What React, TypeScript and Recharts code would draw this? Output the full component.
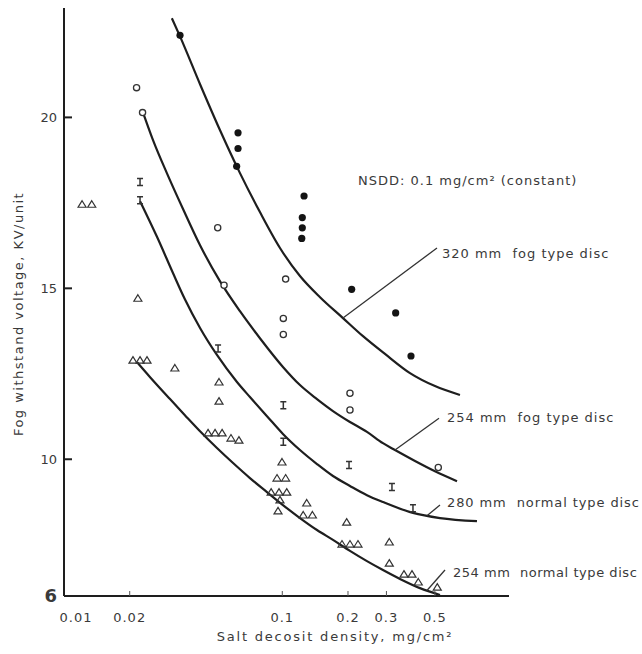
import React from 'react';
import { ComposedChart, XAxis, YAxis, Line, Scatter, ReferenceLine, ReferenceDot } from 'recharts';

const X_TICKS = [0.01, 0.02, 0.1, 0.2, 0.3, 0.5];
const X_TICK_LABELS = ['0.01', '0.02', '0.1', '0.2', '0.3', '0.5'];
const Y_TICKS = [6, 10, 15, 20];

// 320 mm fog type disc (filled circles)
const FOG320_POINTS: [number, number][] = [
  [0.034, 22.4], [0.0627, 19.55], [0.0627, 19.09], [0.0618, 18.57], [0.1258, 17.7],
  [0.1235, 17.07], [0.1235, 16.77], [0.1228, 16.46], [0.2079, 14.97], [0.3307, 14.28], [0.3887, 13.02],
];
const FOG320_CURVE: [number, number][] = [
  [0.0312, 22.9], [0.034, 22.37], [0.042, 20.97], [0.0518, 19.63], [0.064, 18.37], [0.079, 17.23],
  [0.0976, 16.18], [0.1205, 15.36], [0.1489, 14.74], [0.1897, 14.13], [0.2343, 13.6], [0.2954, 13.08],
  [0.3846, 12.52], [0.5006, 12.14], [0.6516, 11.88],
];

// 254 mm fog type disc (open circles)
const FOG254_POINTS: [number, number][] = [
  [0.0215, 20.87], [0.0229, 20.14], [0.0506, 16.77], [0.0541, 15.09], [0.1036, 15.27],
  [0.1011, 14.12], [0.1011, 13.65], [0.2042, 11.93], [0.2042, 11.44], [0.5184, 9.76],
];
const FOG254_CURVE: [number, number][] = [
  [0.023, 20.15], [0.0256, 19.33], [0.0296, 18.37], [0.0351, 17.32], [0.042, 16.26], [0.0518, 15.21],
  [0.064, 14.33], [0.079, 13.54], [0.1007, 12.7], [0.1205, 12.17], [0.1442, 11.76], [0.1707, 11.41],
  [0.2042, 11.09], [0.2443, 10.8], [0.2892, 10.47], [0.3283, 10.27], [0.4055, 9.95], [0.5006, 9.65],
  [0.6316, 9.36],
];

// 280 mm normal type disc (I markers)
const NORM280_POINTS: [number, number][] = [
  [0.0223, 18.11], [0.0223, 17.58], [0.0508, 13.24], [0.1011, 11.58], [0.1011, 10.51],
  [0.2022, 9.83], [0.318, 9.19], [0.3969, 8.57],
];
const NORM280_CURVE: [number, number][] = [
  [0.0223, 17.55], [0.0267, 16.5], [0.0316, 15.44], [0.0358, 14.68], [0.042, 13.84], [0.0502, 13.05],
  [0.062, 12.26], [0.0711, 11.82], [0.0851, 11.26], [0.1007, 10.74], [0.1205, 10.27], [0.1442, 9.86],
  [0.1707, 9.51], [0.2042, 9.22], [0.2443, 8.95], [0.2892, 8.75], [0.3969, 8.43], [0.5278, 8.28],
  [0.7797, 8.19],
];

// 254 mm normal type disc (triangles)
const NORM254_POINTS: [number, number][] = [
  [0.0121, 17.46], [0.0134, 17.46], [0.0218, 14.71], [0.0207, 12.9], [0.0223, 12.9], [0.024, 12.9],
  [0.0322, 12.67], [0.0513, 12.26], [0.0513, 11.7], [0.0457, 10.77], [0.0492, 10.77], [0.053, 10.77],
  [0.0582, 10.62], [0.0633, 10.56], [0.0997, 9.92], [0.0946, 9.45], [0.1036, 9.45], [0.0889, 9.04],
  [0.0966, 9.04], [0.1048, 9.04], [0.0976, 8.81], [0.0956, 8.49], [0.1294, 8.72], [0.1247, 8.37],
  [0.1374, 8.37], [0.1972, 8.16], [0.1877, 7.52], [0.2042, 7.52], [0.2222, 7.52], [0.3092, 7.58],
  [0.3092, 6.96], [0.361, 6.64], [0.3928, 6.64], [0.4198, 6.41], [0.5129, 6.26],
];
const NORM254_CURVE: [number, number][] = [
  [0.0216, 12.84], [0.0248, 12.4], [0.0306, 11.76], [0.0358, 11.29], [0.042, 10.82], [0.0502, 10.33],
  [0.0595, 9.89], [0.0711, 9.45], [0.0851, 9.04], [0.1007, 8.66], [0.1205, 8.28], [0.1442, 7.93],
  [0.1707, 7.64], [0.2042, 7.32], [0.2443, 7.02], [0.2892, 6.76], [0.3461, 6.5], [0.4274, 6.23],
  [0.5278, 6.03],
];

// annotations: [x, y] anchors in data units
const NOTE_TEXTS = [
  'NSDD: 0.1 mg/cm\u00B2 (constant)',
  '320 mm  fog type disc',
  '254 mm  fog type disc',
  '280 mm  normal type disc',
  '254 mm  normal type disc',
];
const NOTE_ANCHORS: [number, number][] = [
  [0.2222, 18.16], [0.5391, 16.03], [0.5683, 11.23], [0.5683, 8.75], [0.6053, 6.7],
];
const NOTE_SPACING = [1, 1, 1, 0.9, 0.55];
const LEADERS: [number, number, number, number][] = [
  [0.1897, 14.13, 0.5114, 16.18],
  [0.3283, 10.27, 0.5223, 11.2],
  [0.46, 8.35, 0.5278, 8.66],
  [0.46, 6.16, 0.5564, 6.76],
];

const toPts = (arr: [number, number][]) => arr.map(([x, y]) => ({ x, y }));

const FONT = '"DejaVu Sans", sans-serif';
const INK = '#1e1e1e';
const TEXT = '#3a3a3a';

const FilledDot = (p: any) => <circle cx={p.cx} cy={p.cy} r={3.6} fill="#141414" />;
const OpenDot = (p: any) => (
  <circle cx={p.cx} cy={p.cy} r={3.1} fill="#fff" stroke="#333" strokeWidth={1.3} />
);
const IBeam = (p: any) => {
  const { cx, cy } = p;
  return (
    <path
      d={`M${cx - 3},${cy - 3.5}H${cx + 3}M${cx},${cy - 3.5}V${cy + 3.5}M${cx - 3},${cy + 3.5}H${cx + 3}`}
      stroke="#333"
      strokeWidth={1.5}
      fill="none"
    />
  );
};
const Tri = (p: any) => {
  const { cx, cy } = p;
  return (
    <path
      d={`M${cx},${cy - 3.5}L${cx + 4},${cy + 3}L${cx - 4},${cy + 3}Z`}
      fill="none"
      stroke="#333"
      strokeWidth={1.2}
    />
  );
};

const XTick = (p: any) => {
  const v = p.payload.value;
  const i = X_TICKS.indexOf(v);
  return (
    <text
      x={v === 0.01 ? p.x + 12 : p.x}
      y={p.y}
      dy="0.35em"
      textAnchor="middle"
      fontFamily={FONT}
      fontSize={13}
      letterSpacing={1}
      fill={TEXT}
    >
      {i >= 0 ? X_TICK_LABELS[i] : String(v)}
    </text>
  );
};

const YTick = (p: any) => {
  const v = p.payload.value;
  return (
    <text
      x={p.x}
      y={p.y}
      dy="0.35em"
      textAnchor="end"
      fontFamily={FONT}
      fontSize={v === 6 ? 18 : 13}
      fontWeight={v === 6 ? 'bold' : 'normal'}
      fill={TEXT}
    >
      {String(v)}
    </text>
  );
};

const NoteText = (p: any) => {
  const vb = p.viewBox || {};
  return (
    <text
      x={vb.x}
      y={vb.y}
      dy="0.35em"
      fontFamily={FONT}
      fontSize={13}
      letterSpacing={p.ls}
      fill={TEXT}
      style={{ whiteSpace: 'pre' }}
    >
      {p.txt}
    </text>
  );
};

export default function App() {
  return (
    <div style={{ position: 'absolute', left: 0, top: 0, width: 642, height: 654, background: '#fff' }}>
      <ComposedChart
        width={642}
        height={654}
        margin={{ top: 8, right: 133, bottom: 28, left: 24 }}
      >
        <XAxis
          type="number"
          dataKey="x"
          scale="log"
          domain={[0.01, 1.093]}
          allowDataOverflow
          ticks={X_TICKS}
          interval={0}
          height={30}
          axisLine={{ stroke: INK, strokeWidth: 2 }}
          tickLine={{ stroke: '#555', strokeWidth: 1 }}
          tickSize={-5}
          tickMargin={26}
          tick={<XTick />}
        />
        <YAxis
          type="number"
          dataKey="y"
          domain={[6, 23.2]}
          allowDataOverflow
          ticks={Y_TICKS}
          interval={0}
          width={40}
          axisLine={{ stroke: INK, strokeWidth: 2 }}
          tickLine={{ stroke: INK, strokeWidth: 2 }}
          tickSize={-8}
          tickMargin={15}
          tick={<YTick />}
        />
        <Line data={toPts(FOG320_CURVE)} dataKey="y" type="monotone" stroke={INK} strokeWidth={2.2} dot={false} isAnimationActive={false} />
        <Line data={toPts(FOG254_CURVE)} dataKey="y" type="monotone" stroke={INK} strokeWidth={2.2} dot={false} isAnimationActive={false} />
        <Line data={toPts(NORM280_CURVE)} dataKey="y" type="monotone" stroke={INK} strokeWidth={2.2} dot={false} isAnimationActive={false} />
        <Line data={toPts(NORM254_CURVE)} dataKey="y" type="monotone" stroke={INK} strokeWidth={2.2} dot={false} isAnimationActive={false} />
        {LEADERS.map(([x1, y1, x2, y2], i) => (
          <ReferenceLine
            key={'ld' + i}
            segment={[{ x: x1, y: y1 }, { x: x2, y: y2 }]}
            stroke="#333"
            strokeWidth={1.3}
            ifOverflow="visible"
          />
        ))}
        <Scatter data={toPts(FOG320_POINTS)} dataKey="y" shape={FilledDot} isAnimationActive={false} />
        <Scatter data={toPts(FOG254_POINTS)} dataKey="y" shape={OpenDot} isAnimationActive={false} />
        <Scatter data={toPts(NORM280_POINTS)} dataKey="y" shape={IBeam} isAnimationActive={false} />
        <Scatter data={toPts(NORM254_POINTS)} dataKey="y" shape={Tri} isAnimationActive={false} />
        {NOTE_ANCHORS.map(([x, y], i) => (
          <ReferenceDot
            key={'nt' + i}
            x={x}
            y={y}
            r={0}
            fill="none"
            stroke="none"
            ifOverflow="visible"
            label={<NoteText txt={NOTE_TEXTS[i]} ls={NOTE_SPACING[i]} />}
          />
        ))}
      </ComposedChart>
      <div
        style={{
          position: 'absolute',
          left: 335,
          top: 629,
          transform: 'translateX(-50%)',
          whiteSpace: 'nowrap',
          fontFamily: FONT,
          fontSize: 13,
          lineHeight: '16px',
          letterSpacing: 1.8,
          color: TEXT,
        }}
      >
        Salt decosit density, mg/cm²
      </div>
      <div
        style={{
          position: 'absolute',
          left: 19,
          top: 314,
          transform: 'translate(-50%, -50%) rotate(-90deg)',
          whiteSpace: 'nowrap',
          fontFamily: FONT,
          fontSize: 13,
          lineHeight: '16px',
          letterSpacing: 1.5,
          color: TEXT,
        }}
      >
        Fog withstand voltage, KV/unit
      </div>
    </div>
  );
}
